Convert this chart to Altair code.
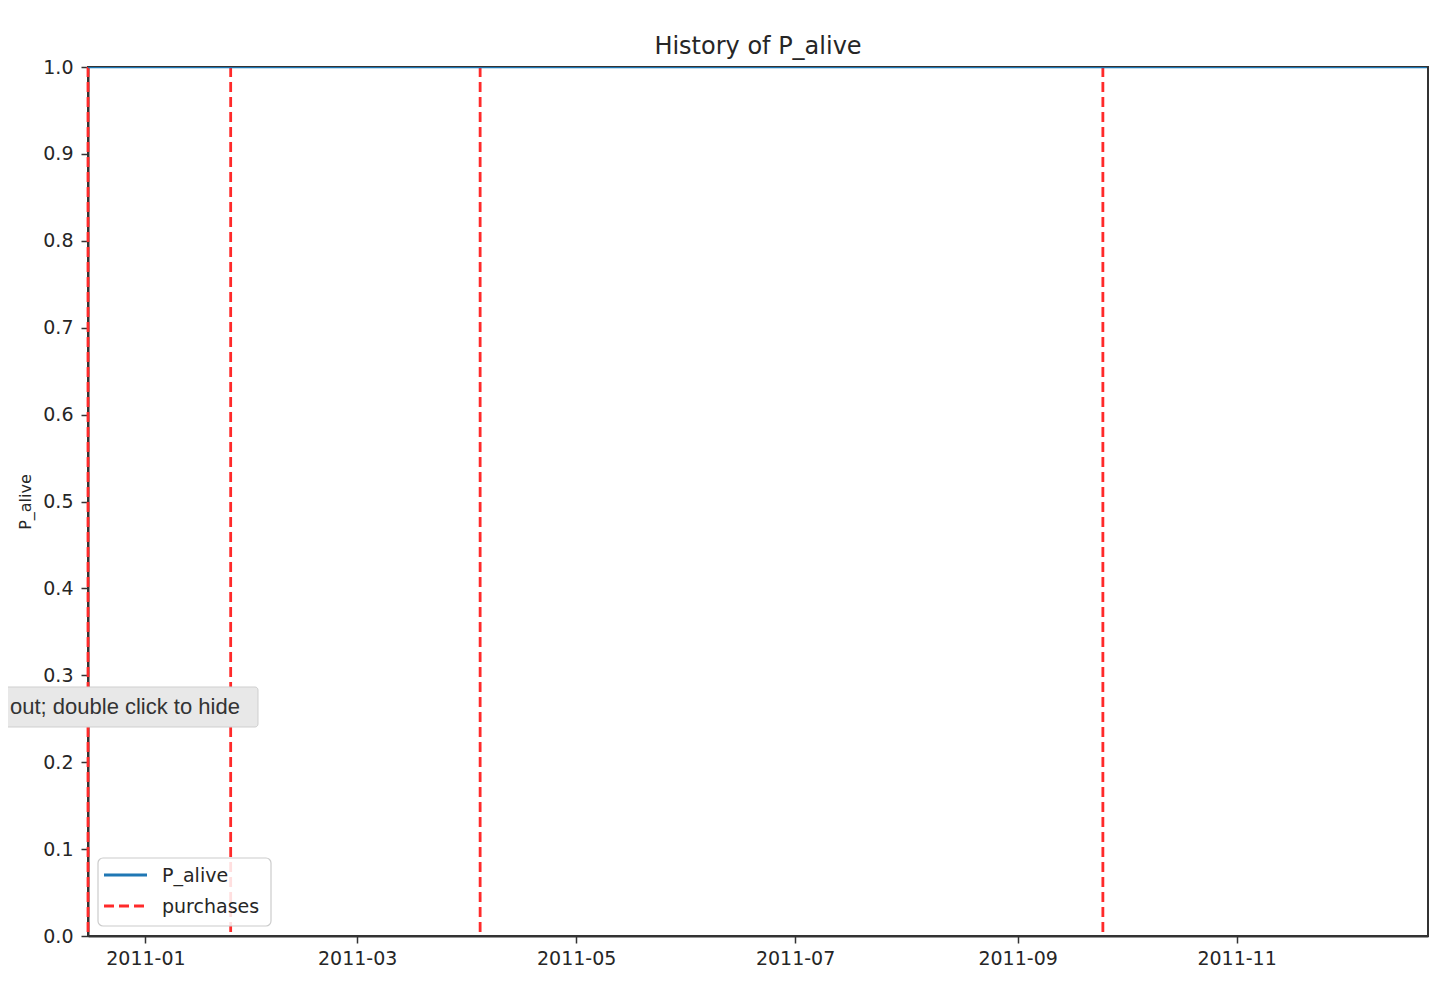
import altair as alt
import pandas as pd

# ---- data ----
purchase_dates = ["2010-12-16", "2011-01-24T18:00", "2011-04-04T06:00", "2011-09-24T18:00"]
p_alive_dates = ["2010-12-16", "2011-01-24", "2011-04-04", "2011-09-24", "2011-12-24"]
p_alive_values = [1.0, 1.0, 1.0, 1.0, 1.0]
x_tick_labels = ["2011-01", "2011-03", "2011-05", "2011-07", "2011-09", "2011-11"]
y_ticks = [0.0, 0.1, 0.2, 0.3, 0.4, 0.5, 0.6, 0.7, 0.8, 0.9, 1.0]
x_start = "2010-12-16"
x_end = "2011-12-24T08:00"
legend_labels = ["P_alive", "purchases"]
hint_text = "out; double click to hide"

W, H = 1340, 869
FONT = "DejaVu Sans"
RED = "#ff2a2a"

purch = pd.DataFrame({"date": purchase_dates})
palive = pd.DataFrame({"date": p_alive_dates, "P_alive": p_alive_values})

def dt(s):
    ts = pd.Timestamp(s)
    return alt.DateTime(year=ts.year, month=ts.month, date=ts.day, hours=ts.hour, utc=True)

x_values = [dt(s + "-01") for s in x_tick_labels]

x_scale = alt.Scale(type="utc", domain=[dt(x_start), dt(x_end)], nice=False)
y_scale = alt.Scale(domain=[0, 1], nice=False, zero=False)

x_axis = alt.Axis(values=x_values, labelExpr="utcFormat(datum.value, '%Y-%m')", title=None,
                  grid=False, labelPadding=6, labelFlush=False, labelFontSize=19)
y_axis = alt.Axis(values=y_ticks, format=".1f", title="P_alive", grid=False,
                  titleFontSize=16, titleFont=FONT, titleFontWeight="normal",
                  titlePadding=9, titleColor="#262626", labelPadding=8, labelFontSize=19)

line = alt.Chart(palive).mark_line(color="#1f77b4", strokeWidth=2.5, clip=True).encode(
    x=alt.X("date:T", scale=x_scale, axis=x_axis),
    y=alt.Y("P_alive:Q", scale=y_scale, axis=y_axis),
)

rules = alt.Chart(purch).mark_rule(color=RED, strokeWidth=2.8, strokeDash=[10, 5]).encode(
    x=alt.X("date:T", scale=x_scale, axis=x_axis),
)

one = pd.DataFrame({"a": [0]})

# legend box (drawn as marks)
leg_box = alt.Chart(one).mark_rect(fill="white", fillOpacity=0.85, stroke="#cccccc",
                                   strokeWidth=1.2, cornerRadius=5).encode(
    x=alt.value(10), x2=alt.value(183), y=alt.value(791), y2=alt.value(859))
leg_blue = alt.Chart(one).mark_rule(color="#1f77b4", strokeWidth=2.8).encode(
    x=alt.value(16), x2=alt.value(59), y=alt.value(808))
leg_red = alt.Chart(one).mark_rule(color=RED, strokeWidth=2.8, strokeDash=[10, 5]).encode(
    x=alt.value(16), x2=alt.value(59), y=alt.value(839))
leg_txt1 = alt.Chart(one).mark_text(text=legend_labels[0], align="left", baseline="middle",
                                    font=FONT, fontSize=19, color="#262626").encode(
    x=alt.value(74), y=alt.value(809))
leg_txt2 = alt.Chart(one).mark_text(text=legend_labels[1], align="left", baseline="middle",
                                    font=FONT, fontSize=19, color="#262626").encode(
    x=alt.value(74), y=alt.value(840))

# hover hint box
hint_box = alt.Chart(one).mark_rect(fill="#e8e8e8", stroke="#cfcfcf", strokeWidth=1,
                                    cornerRadius=3, clip=False).encode(
    x=alt.value(-100), x2=alt.value(170), y=alt.value(620), y2=alt.value(660))
hint_txt = alt.Chart(one).mark_text(text=hint_text, align="left", baseline="middle",
                                    font="Liberation Sans", fontSize=22, color="#333333").encode(
    x=alt.value(-78), y=alt.value(640))

chart = alt.layer(
    rules, line, leg_box, leg_blue, leg_red, leg_txt1, leg_txt2, hint_box, hint_txt
).properties(
    width=W, height=H,
    title=alt.TitleParams("History of P_alive", font=FONT, fontSize=24, fontWeight="normal",
                          color="#262626", anchor="middle", offset=-1),
    autosize=alt.AutoSizeParams(type="none"),
    padding={"left": 80, "top": 59, "right": 20, "bottom": 46},
).configure_view(
    stroke="#333333", strokeWidth=2
).configure_axis(
    domainColor="#333333", domainWidth=2, tickColor="#333333", tickWidth=1.5, tickSize=7,
    labelFont=FONT, labelFontSize=19, labelColor="#262626",
)

chart.save("out.html", embed_options={"renderer": "svg", "actions": False})
